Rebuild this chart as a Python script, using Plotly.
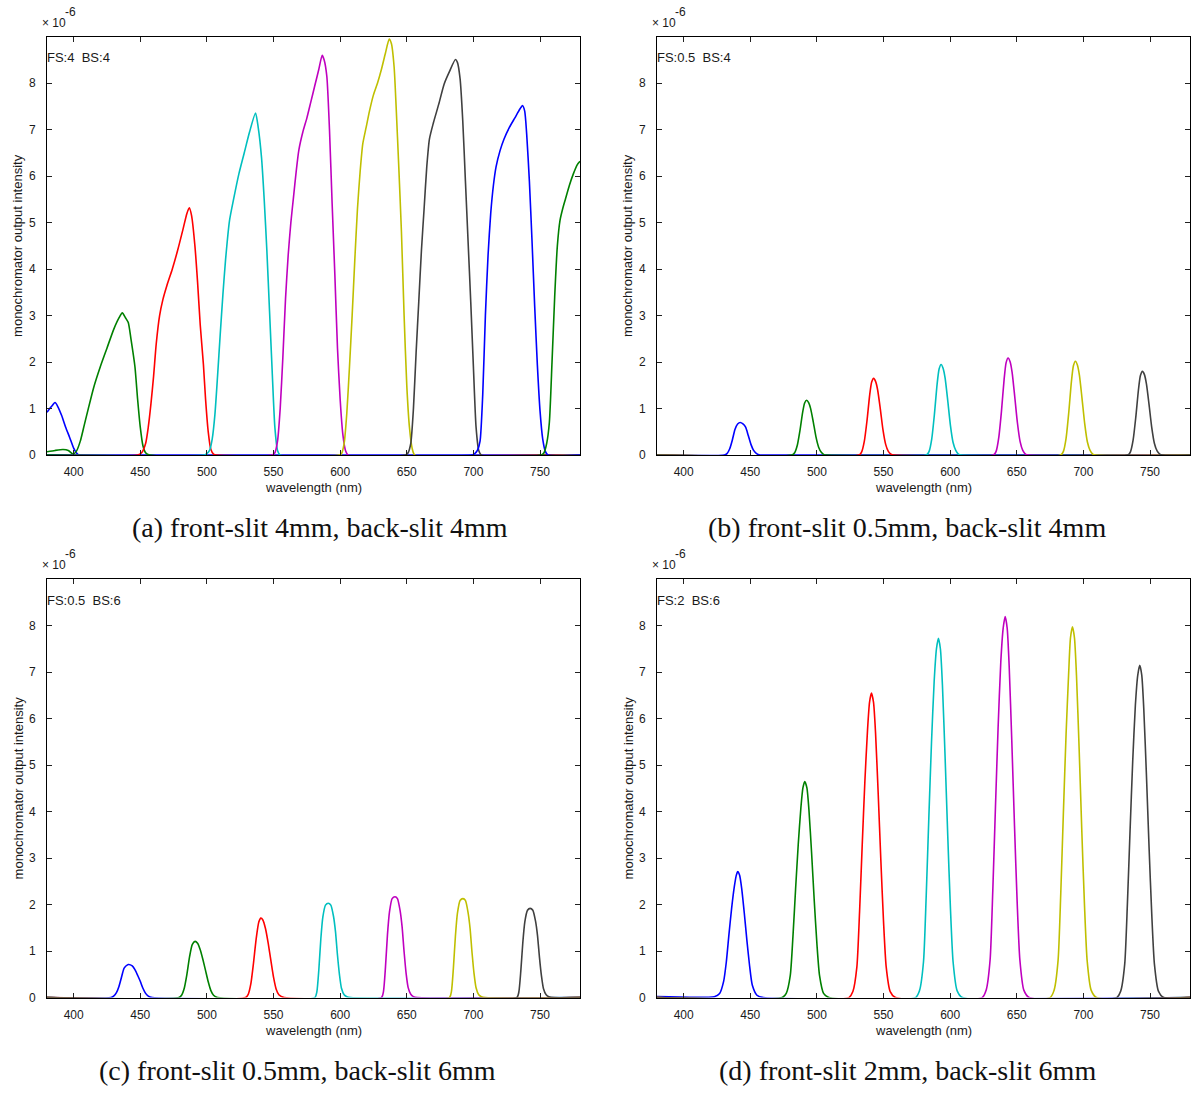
import plotly.graph_objects as go

# ---------------- data (wavelength in nm, intensity in units of 1e-6) ----------------
COLORS = ["#0000ff", "#008000", "#ff0000", "#00bfbf", "#bf00bf", "#bfbf00", "#404040"]

# Panel (a): FS 4, BS 4
A_COLORS = ["#0000ff", "#008000", "#ff0000", "#00bfbf", "#bf00bf", "#bfbf00", "#404040", "#0000ff", "#008000"]
A_WL = [
    [380, 381.5, 383.5, 386, 388, 391, 394, 397, 400, 402, 403.5, 406, 780],
    [380, 386, 392, 396, 399.5, 402, 405, 408, 411, 415, 420, 425, 430, 434, 436.5, 439, 441, 443, 446, 448, 450, 452, 454, 457, 780],
    [380, 448, 451, 454, 456, 458, 460, 462, 464.5, 467, 470, 474, 478, 482, 485, 486.8, 488.5, 491, 493, 495, 497.4, 499, 501, 503, 505, 507, 780],
    [380, 498, 500, 502, 504, 506, 508, 510, 512, 514, 517, 520, 524, 528, 532, 536.5, 538.5, 541, 543, 545, 547, 549, 551, 553, 555, 780],
    [380, 549, 551, 553, 555, 557, 559, 561, 563, 565, 567, 569, 572, 575, 578, 581, 584, 586.5, 588, 590, 592, 594, 596, 598, 600, 602, 604, 606, 780],
    [380, 599, 601, 603, 605, 607, 609, 611, 613, 615, 617, 619.5, 622, 625, 628, 631, 634, 636.8, 638.5, 640.5, 642, 644, 646, 648, 650, 652, 654, 656, 780],
    [380, 649, 651, 653, 655, 657, 659, 661, 663, 665, 667, 670, 674, 678, 682, 686.5, 688, 690, 692, 694, 696, 698, 700, 702, 704, 706, 780],
    [380, 699, 701, 703, 705, 707, 709, 711, 713, 715, 717, 720, 723, 727, 731, 735, 736.8, 738.5, 740, 742, 744, 746, 748, 750, 752, 754, 756, 780],
    [380, 751, 753, 755, 757, 759, 761, 763, 765, 767, 769, 772, 775, 778, 780],
]
A_INT = [
    [0.92, 0.98, 1.05, 1.13, 1.05, 0.85, 0.6, 0.38, 0.15, 0.05, 0.01, 0, 0],
    [0.07, 0.1, 0.12, 0.1, 0.02, 0.08, 0.3, 0.65, 1.0, 1.45, 1.9, 2.3, 2.7, 2.95, 3.06, 2.95, 2.85, 2.5, 1.9, 1.2, 0.6, 0.2, 0.05, 0, 0],
    [0, 0, 0.05, 0.25, 0.6, 1.1, 1.7, 2.4, 3.0, 3.35, 3.65, 4.0, 4.4, 4.85, 5.2, 5.32, 5.15, 4.5, 3.72, 2.8, 1.94, 1.2, 0.5, 0.12, 0.02, 0, 0],
    [0, 0, 0.03, 0.1, 0.35, 0.87, 1.7, 2.6, 3.45, 4.2, 5.05, 5.5, 6.05, 6.5, 6.95, 7.36, 7.05, 6.4, 5.5, 4.4, 3.1, 1.8, 0.6, 0.1, 0, 0],
    [0, 0, 0.05, 0.3, 1.0, 2.1, 3.36, 4.3, 5.0, 5.55, 6.1, 6.56, 6.95, 7.25, 7.6, 7.95, 8.3, 8.6, 8.5, 8.15, 7.0, 5.4, 3.9, 2.3, 1.2, 0.45, 0.1, 0, 0],
    [0, 0, 0.03, 0.25, 0.9, 1.9, 3.0, 4.2, 5.3, 6.1, 6.7, 7.05, 7.4, 7.75, 8.0, 8.3, 8.65, 8.95, 8.85, 8.35, 7.5, 6.2, 4.8, 3.0, 1.5, 0.6, 0.15, 0, 0],
    [0, 0, 0.05, 0.25, 1.0, 2.2, 3.3, 4.4, 5.3, 6.2, 6.8, 7.15, 7.55, 7.98, 8.25, 8.51, 8.45, 8.1, 7.2, 5.9, 4.6, 3.3, 1.9, 0.6, 0.1, 0, 0],
    [0, 0, 0.03, 0.1, 0.3, 1.3, 3.0, 4.3, 5.2, 5.8, 6.2, 6.55, 6.8, 7.05, 7.25, 7.45, 7.52, 7.4, 6.9, 5.9, 4.6, 3.2, 1.94, 0.95, 0.35, 0.08, 0, 0],
    [0, 0, 0.05, 0.25, 0.7, 2.0, 3.4, 4.5, 5.05, 5.3, 5.5, 5.8, 6.05, 6.25, 6.32],
]

# Panel (b): FS 0.5, BS 4
B_WL = [
    [380, 430.5, 432.5, 434.5, 436.5, 438.5, 440.5, 442.5, 444.5, 446.5, 448.5, 450.5, 452.5, 454.5, 456.5, 458.5, 780],
    [380, 481.3, 483.3, 485.3, 487.3, 489.3, 490.8, 492.3, 493.8, 495.3, 497.3, 499.3, 501.3, 503.3, 505.3, 507.3, 780],
    [380, 531.6, 533.6, 535.6, 537.6, 539.6, 541.1, 542.6, 544.1, 545.6, 547.6, 549.6, 551.6, 553.6, 555.6, 557.6, 780],
    [380, 582.2, 584.2, 586.2, 588.2, 590.2, 591.7, 593.2, 594.7, 596.2, 598.2, 600.2, 602.2, 604.2, 606.2, 608.2, 780],
    [380, 632.5, 634.5, 636.5, 638.5, 640.5, 642, 643.5, 645, 646.5, 648.5, 650.5, 652.5, 654.5, 656.5, 658.5, 780],
    [380, 683, 685, 687, 689, 691, 692.5, 694, 695.5, 697, 699, 701, 703, 705, 707, 709, 780],
    [380, 733.3, 735.3, 737.3, 739.3, 741.3, 742.8, 744.3, 745.8, 747.3, 749.3, 751.3, 753.3, 755.3, 757.3, 759.3, 780],
]
B_INT = [
    [0, 0, 0.03, 0.13, 0.32, 0.55, 0.67, 0.70, 0.67, 0.6, 0.42, 0.23, 0.1, 0.035, 0.007, 0, 0],
    [0, 0, 0.05, 0.21, 0.53, 0.92, 1.12, 1.18, 1.13, 1.0, 0.71, 0.39, 0.17, 0.06, 0.01, 0, 0],
    [0, 0, 0.07, 0.3, 0.74, 1.29, 1.57, 1.65, 1.58, 1.4, 0.99, 0.54, 0.23, 0.08, 0.02, 0, 0],
    [0, 0, 0.08, 0.35, 0.88, 1.52, 1.85, 1.95, 1.87, 1.66, 1.17, 0.64, 0.27, 0.1, 0.02, 0, 0],
    [0, 0, 0.08, 0.38, 0.94, 1.63, 1.99, 2.09, 2.01, 1.78, 1.25, 0.69, 0.29, 0.1, 0.02, 0, 0],
    [0, 0, 0.08, 0.36, 0.91, 1.58, 1.92, 2.02, 1.94, 1.72, 1.21, 0.67, 0.28, 0.1, 0.02, 0, 0],
    [0, 0, 0.07, 0.32, 0.81, 1.4, 1.71, 1.80, 1.73, 1.53, 1.08, 0.59, 0.25, 0.09, 0.02, 0, 0],
]

# Panel (c): FS 0.5, BS 6
C_WL = [
    [380, 428, 430, 432, 434, 436, 438, 441, 444, 446, 448, 450, 452, 454, 456, 459, 780],
    [380, 479, 481, 483, 485, 487, 489, 491.1, 493, 495, 497, 499, 501, 503, 505, 508, 780],
    [380, 529, 531, 533, 535, 537, 539, 540.5, 542, 544, 546, 548, 550, 552, 554, 558, 780],
    [380, 581, 582.5, 584, 585.5, 587, 589, 591.1, 593, 595, 596.5, 598, 599.5, 601, 603, 605, 608, 780],
    [380, 631, 632.5, 634, 635.5, 637, 639, 641.2, 643, 645, 646.5, 648, 649.5, 651, 653, 655, 658, 780],
    [380, 682, 683.5, 685, 686.5, 688, 690, 692.2, 694, 696, 697.5, 699, 700.5, 702, 704, 706, 709, 780],
    [380, 732.6, 734.1, 735.6, 737.1, 738.6, 740.6, 742.6, 744.6, 746.6, 748.1, 749.6, 751.1, 752.6, 754.6, 756.6, 760.6, 780],
]
C_INT = [
    [0, 0, 0.03, 0.1, 0.24, 0.45, 0.64, 0.71, 0.68, 0.6, 0.48, 0.35, 0.2, 0.09, 0.03, 0, 0],
    [0, 0, 0.05, 0.2, 0.5, 0.88, 1.14, 1.21, 1.17, 1.03, 0.82, 0.58, 0.34, 0.15, 0.05, 0, 0],
    [0, 0, 0.07, 0.3, 0.75, 1.27, 1.63, 1.71, 1.67, 1.48, 1.17, 0.8, 0.44, 0.18, 0.06, 0, 0],
    [0, 0, 0.12, 0.6, 1.26, 1.73, 1.99, 2.03, 1.99, 1.75, 1.42, 0.91, 0.49, 0.2, 0.06, 0.02, 0, 0],
    [0, 0, 0.13, 0.65, 1.35, 1.84, 2.13, 2.17, 2.13, 1.87, 1.52, 0.98, 0.52, 0.22, 0.07, 0.02, 0, 0],
    [0, 0, 0.13, 0.64, 1.32, 1.81, 2.09, 2.13, 2.09, 1.83, 1.49, 0.96, 0.51, 0.21, 0.06, 0.02, 0, 0],
    [0, 0, 0.12, 0.58, 1.19, 1.63, 1.88, 1.92, 1.88, 1.65, 1.34, 0.86, 0.46, 0.19, 0.06, 0.02, 0, 0],
]

# Panel (d): FS 2, BS 6
D_WL = [
    [380, 423, 427, 430, 432, 434, 436, 438, 439.5, 440.6, 442, 443.5, 445.5, 447.5, 449.5, 451.5, 455, 460, 780],
    [380, 474, 477, 480, 482, 484, 486, 488, 489.5, 490.9, 492.5, 494, 496, 498, 500, 502, 505, 509, 780],
    [380, 524, 527, 530, 532, 534, 536, 538, 539.5, 540.9, 542.5, 544, 546, 548, 550, 552, 555, 559, 780],
    [380, 574, 577, 580, 582, 584, 586, 588, 589.7, 591.2, 592.7, 594.2, 596.2, 598.2, 600.2, 602.2, 605.2, 609.2, 780],
    [380, 624, 627, 630, 632, 634, 636, 638, 639.8, 641.3, 642.8, 644.3, 646.3, 648.3, 650.3, 652.3, 655.3, 659.3, 780],
    [380, 675, 678, 681, 683, 685, 687, 689, 690.3, 691.8, 693.3, 694.8, 696.8, 698.8, 700.8, 702.8, 705.8, 709.8, 780],
    [380, 725, 728, 731, 733, 735, 737, 739, 740.8, 742.3, 743.8, 745.3, 747.3, 749.3, 751.3, 753.3, 756.3, 760.3, 780],
]
D_INT = [
    [0.02, 0.02, 0.09, 0.35, 0.76, 1.36, 1.92, 2.38, 2.63, 2.71, 2.63, 2.36, 1.82, 1.22, 0.68, 0.27, 0.05, 0, 0],
    [0, 0, 0.09, 0.47, 1.3, 2.33, 3.3, 4.09, 4.51, 4.65, 4.51, 4.05, 3.12, 2.09, 1.16, 0.47, 0.09, 0, 0],
    [0, 0, 0.13, 0.66, 1.83, 3.28, 4.65, 5.76, 6.35, 6.55, 6.35, 5.7, 4.39, 2.95, 1.64, 0.66, 0.13, 0, 0],
    [0, 0, 0.15, 0.77, 2.16, 3.87, 5.49, 6.8, 7.5, 7.73, 7.5, 6.73, 5.18, 3.48, 1.93, 0.77, 0.15, 0, 0],
    [0, 0, 0.16, 0.82, 2.3, 4.1, 5.82, 7.22, 7.95, 8.2, 7.95, 7.13, 5.49, 3.69, 2.05, 0.82, 0.16, 0, 0],
    [0, 0, 0.16, 0.8, 2.23, 3.99, 5.67, 7.02, 7.74, 7.98, 7.74, 6.94, 5.35, 3.59, 2.0, 0.8, 0.16, 0, 0],
    [0, 0, 0.14, 0.72, 2.0, 3.58, 5.08, 6.29, 6.94, 7.15, 6.94, 6.22, 4.79, 3.22, 1.79, 0.72, 0.14, 0, 0],
]

X_TICKS = [400, 450, 500, 550, 600, 650, 700, 750]
Y_TICKS = [0, 1, 2, 3, 4, 5, 6, 7, 8]
PANEL_LABELS = ["FS:4\u00a0\u00a0BS:4", "FS:0.5\u00a0\u00a0BS:4", "FS:0.5\u00a0\u00a0BS:6", "FS:2\u00a0\u00a0BS:6"]
CAPTIONS = ["(a) front-slit 4mm, back-slit 4mm", "(b) front-slit 0.5mm, back-slit 4mm",
            "(c) front-slit 0.5mm, back-slit 6mm", "(d) front-slit 2mm, back-slit 6mm"]

# ---------------- layout geometry (pixels) ----------------
W, H = 1194, 1095
# plot boxes: (left, right, top, bottom)
BOXES = [(47, 580, 37, 458), (657, 1190, 37, 458), (47, 580, 583, 1004), (657, 1190, 583, 1004)]
CAPTION_POS = [(320, 531), (907, 531), (297, 1077), (907, 1077)]


def px(x):
    return x / W


def py(y):
    return 1 - y / H


fig = go.Figure()
panels = [(A_WL, A_INT, A_COLORS), (B_WL, B_INT, COLORS), (C_WL, C_INT, COLORS), (D_WL, D_INT, COLORS)]

SANS = "Liberation Sans, Arial, sans-serif"
TICK_FONT = dict(family=SANS, size=12, color="#1a1a1a")
LABEL_FONT = dict(family=SANS, size=13, color="#1a1a1a")
SMALL_FONT = dict(family=SANS, size=12, color="#1a1a1a")
annotations = []
for i, ((wls, ints, cols), (l, r, t, b)) in enumerate(zip(panels, BOXES)):
    n = i + 1
    xa = "x" if n == 1 else f"x{n}"
    ya = "y" if n == 1 else f"y{n}"
    for wl, it, c in zip(wls, ints, cols):
        fig.add_trace(go.Scatter(x=wl, y=it, mode="lines",
                                 line=dict(color=c, width=1.6, shape="spline", smoothing=0.6),
                                 xaxis=xa, yaxis=ya, showlegend=False, hoverinfo="skip"))
    xkey = "xaxis" if n == 1 else f"xaxis{n}"
    ykey = "yaxis" if n == 1 else f"yaxis{n}"
    fig.update_layout(**{
        xkey: dict(domain=[px(l), px(r)], range=[380, 780], anchor=ya, tickvals=X_TICKS,
                   ticks="inside", ticklen=5, tickcolor="#222", tickwidth=1, mirror="ticks",
                   showline=True, linecolor="#000", linewidth=1, showgrid=False, zeroline=False,
                   tickfont=TICK_FONT, ticklabelstandoff=6),
        ykey: dict(domain=[py(b), py(t)], range=[0, 9], anchor=xa, tickvals=Y_TICKS,
                   ticks="inside", ticklen=5, tickcolor="#222", tickwidth=1, mirror="ticks",
                   showline=True, linecolor="#000", linewidth=1, showgrid=False, zeroline=False,
                   tickfont=TICK_FONT, ticklabelstandoff=8),
    })
    # axis titles
    annotations.append(dict(text="wavelength (nm)", xref="paper", yref="paper",
                            x=px((l + r) / 2), y=py(b + 33), xanchor="center", yanchor="middle",
                            showarrow=False, font=LABEL_FONT))
    annotations.append(dict(text="monochromator output intensity", xref="paper", yref="paper",
                            x=px(l - 29), y=py((t + b) / 2), xanchor="center", yanchor="middle",
                            textangle=-90, showarrow=False, font=LABEL_FONT))
    # exponent label
    annotations.append(dict(text="× 10", xref="paper", yref="paper",
                            x=px(l - 7), y=py(t - 14), xanchor="left", yanchor="middle",
                            showarrow=False, font=SMALL_FONT))
    annotations.append(dict(text="-6", xref="paper", yref="paper",
                            x=px(l + 16), y=py(t - 25), xanchor="left", yanchor="middle",
                            showarrow=False, font=SMALL_FONT))
    # FS/BS label
    annotations.append(dict(text=PANEL_LABELS[i], xref="paper", yref="paper",
                            x=px(l - 2), y=py(t + 21), xanchor="left", yanchor="middle",
                            showarrow=False, font=LABEL_FONT))
    # caption
    cx, cy = CAPTION_POS[i]
    annotations.append(dict(text=CAPTIONS[i], xref="paper", yref="paper",
                            x=px(cx), y=py(cy), xanchor="center", yanchor="middle",
                            showarrow=False, font=dict(family="Liberation Serif, serif", size=28, color="#111")))

fig.update_layout(width=W, height=H, margin=dict(l=0, r=0, t=0, b=0),
                  paper_bgcolor="white", plot_bgcolor="white", annotations=annotations)

fig.write_html("out.html", config=dict(displayModeBar=False))
